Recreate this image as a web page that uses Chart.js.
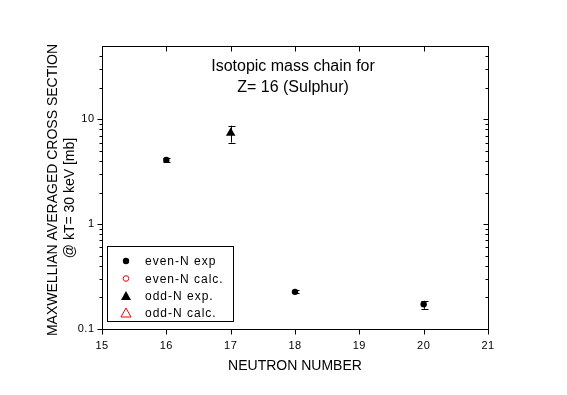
<!DOCTYPE html>
<html><head><meta charset="utf-8">
<script src="https://cdn.jsdelivr.net/npm/chart.js@4"></script>
<style>html,body{margin:0;padding:0;background:#fff}#wrap{width:567px;height:395px}</style>
</head><body><div id="wrap"><canvas id="c" width="567" height="395"></canvas></div>
<script>
const evenN = [16, 18, 20];
const evenVal = [4.1, 0.226, 0.172];
const evenLo = [3.95, 0.219, 0.156];
const evenHi = [4.25, 0.233, 0.186];
const oddN = [17];
const oddVal = [7.4];
const oddLo = [6.0];
const oddHi = [8.7];
const xTicks = [15, 16, 17, 18, 19, 20, 21];
const yMajor = [0.1, 1, 10];
const yMajorLabels = ['0.1', '1', '10'];
const yMinor = [0.2,0.3,0.4,0.5,0.6,0.7,0.8,0.9,2,3,4,5,6,7,8,9,20,30,40];
const legendLabels = ['even-N exp', 'even-N calc.', 'odd-N exp.', 'odd-N calc.'];
const titleLines = ['Isotopic mass chain for', 'Z= 16 (Sulphur)'];
const xTitle = 'NEUTRON NUMBER';
const yTitle = ['MAXWELLIAN AVERAGED CROSS SECTION', '@ kT= 30 keV [mb]'];

const FONT = '"Liberation Sans", Arial, sans-serif';

const decor = {
  id: 'decor',
  afterDatasetsDraw(chart) {
    const ctx = chart.ctx, a = chart.chartArea;
    const xs = chart.scales.x, ys = chart.scales.y;
    ctx.save();
    ctx.strokeStyle = '#000'; ctx.lineWidth = 1;
    const eb = (xv, lo, hi) => {
      const px = Math.round(xs.getPixelForValue(xv)) + 0.5;
      const y1 = ys.getPixelForValue(lo), y2 = ys.getPixelForValue(hi);
      ctx.beginPath();
      ctx.moveTo(px, y1); ctx.lineTo(px, y2);
      ctx.moveTo(px - 3, Math.round(y1) + 0.5); ctx.lineTo(px + 4, Math.round(y1) + 0.5);
      ctx.moveTo(px - 3, Math.round(y2) + 0.5); ctx.lineTo(px + 4, Math.round(y2) + 0.5);
      ctx.stroke();
    };
    evenN.forEach((n, i) => eb(n, evenLo[i], evenHi[i]));
    oddN.forEach((n, i) => eb(n, oddLo[i], oddHi[i]));
    const L = Math.round(a.left) + 0.5, R = Math.round(a.right) + 0.5;
    const T = Math.round(a.top) + 0.5, B = Math.round(a.bottom) + 0.5;
    ctx.strokeRect(L, T, R - L, B - T);
    ctx.beginPath();
    xTicks.forEach(v => {
      const px = Math.round(xs.getPixelForValue(v)) + 0.5;
      ctx.moveTo(px, B); ctx.lineTo(px, B + 5);
      ctx.moveTo(px, T); ctx.lineTo(px, T + 5);
    });
    yMajor.forEach(v => {
      const py = Math.round(ys.getPixelForValue(v)) + 0.5;
      ctx.moveTo(L, py); ctx.lineTo(L - 5, py);
      ctx.moveTo(R, py); ctx.lineTo(R - 5, py);
    });
    yMinor.forEach(v => {
      const py = Math.round(ys.getPixelForValue(v)) + 0.5;
      ctx.moveTo(L, py); ctx.lineTo(L - 3, py);
      ctx.moveTo(R, py); ctx.lineTo(R - 3, py);
    });
    ctx.stroke();
    ctx.fillStyle = '#000';
    ctx.font = '11px ' + FONT;
    ctx.letterSpacing = '0.5px';
    ctx.textAlign = 'center'; ctx.textBaseline = 'middle';
    xTicks.forEach(v => ctx.fillText(String(v), xs.getPixelForValue(v), B + 16));
    ctx.textAlign = 'right';
    yMajor.forEach((v, i) => ctx.fillText(yMajorLabels[i], L - 8, ys.getPixelForValue(v)));
    ctx.letterSpacing = '0px';
    ctx.font = '14px ' + FONT;
    ctx.textAlign = 'center';
    ctx.fillText(xTitle, (a.left + a.right) / 2, 366);
    ctx.save();
    ctx.translate(53, 190);
    ctx.rotate(-Math.PI / 2);
    ctx.fillText(yTitle[0], 0, 0);
    ctx.fillText(yTitle[1], -8, 17);
    ctx.restore();
    ctx.font = '16px ' + FONT;
    ctx.fillText(titleLines[0], 293, 67);
    ctx.fillText(titleLines[1], 293, 88);
    const lx = 107.5, ly = 246.5, lw = 126, lh = 75;
    ctx.fillStyle = '#fff';
    ctx.fillRect(lx, ly, lw, lh);
    ctx.strokeStyle = '#000';
    ctx.strokeRect(lx, ly, lw, lh);
    ctx.font = '12px ' + FONT;
    ctx.letterSpacing = '1px';
    ctx.textAlign = 'left';
    const rowY = [261, 278.5, 296, 313];
    const mx = 126;
    ctx.fillStyle = '#000';
    ctx.beginPath(); ctx.arc(mx, rowY[0], 3.2, 0, Math.PI * 2); ctx.fill();
    ctx.strokeStyle = '#ff0000';
    ctx.beginPath(); ctx.arc(mx, rowY[1], 2.8, 0, Math.PI * 2); ctx.stroke();
    ctx.fillStyle = '#000';
    ctx.beginPath(); ctx.moveTo(mx, rowY[2] - 5); ctx.lineTo(mx + 5, rowY[2] + 4); ctx.lineTo(mx - 5, rowY[2] + 4); ctx.closePath(); ctx.fill();
    ctx.strokeStyle = '#ff0000';
    ctx.beginPath(); ctx.moveTo(mx, rowY[3] - 5); ctx.lineTo(mx + 5, rowY[3] + 4); ctx.lineTo(mx - 5, rowY[3] + 4); ctx.closePath(); ctx.stroke();
    ctx.fillStyle = '#000';
    legendLabels.forEach((t, i) => ctx.fillText(t, 145, rowY[i] + 1));
    ctx.letterSpacing = '0px';
    ctx.restore();
  }
};

new Chart(document.getElementById('c'), {
  type: 'scatter',
  data: {
    datasets: [
      { label: legendLabels[0], data: evenN.map((n, i) => ({ x: n, y: evenVal[i] })),
        pointStyle: 'circle', pointRadius: 3.2, backgroundColor: '#000', borderColor: '#000', borderWidth: 0 },
      { label: legendLabels[2], data: oddN.map((n, i) => ({ x: n, y: oddVal[i] })),
        pointStyle: 'triangle', pointRadius: 5.5, backgroundColor: '#000', borderColor: '#000', borderWidth: 0 }
    ]
  },
  options: {
    responsive: false, animation: false, devicePixelRatio: 1,
    layout: { padding: { left: 102, right: 79, top: 46, bottom: 66 } },
    plugins: { legend: { display: false }, tooltip: { enabled: false }, title: { display: false } },
    scales: {
      x: { type: 'linear', min: 15, max: 21, display: false },
      y: { type: 'logarithmic', min: 0.1, max: 50, display: false }
    }
  },
  plugins: [decor]
});
</script>
</body></html>
